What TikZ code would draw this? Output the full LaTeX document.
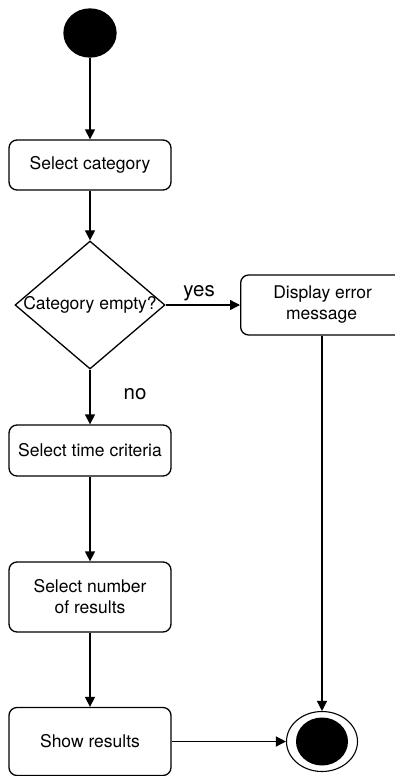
\documentclass[tikz,border=0pt]{standalone}
\usepackage{fontspec}
\setmainfont{TeX Gyre Heros}
\usetikzlibrary{shapes.geometric,arrows.meta}
\begin{document}
\begin{tikzpicture}[x=1pt,y=-1pt,
  line width=1.3pt,
  action/.style={draw, rounded corners=8pt, minimum width=162pt, inner sep=0pt,
    align=center, font=\fontsize{17.5}{21}\selectfont},
  decision/.style={draw, diamond, minimum width=150pt, minimum height=128pt, inner sep=0pt,
    font=\fontsize{17.5}{21}\selectfont},
  guard/.style={font=\fontsize{20.5}{24}\selectfont, inner sep=0pt},
  flow/.style={-{Triangle[length=10pt,width=10pt]}}
]
\clip (0,0) rectangle (395,776);
\fill[white] (0,0) rectangle (395,776);

% initial state
\node[draw, fill=black, ellipse, minimum width=52pt, minimum height=48pt, inner sep=0pt] (start) at (90,33) {};

% actions
\node[action, minimum height=50pt] (cat) at (90,165) {Select category};
\node[decision] (empty) at (90,305) {\makebox[0pt]{Category empty?}};
\node[action, minimum width=162pt, minimum height=60pt, anchor=west] (err) at (240,305) {\hspace*{2pt}Display error\\message};
\node[action, minimum height=51pt] (time) at (90,450.5) {Select time criteria};
\node[action, minimum height=70pt] (num) at (90,597) {Select number\\of results};
\node[action, minimum height=68pt] (show) at (90,741.5) {Show results};

% final state
\node[draw, ellipse, minimum width=71pt, minimum height=60pt, inner sep=0pt, line width=1.1pt] (final) at (322,741.5) {};
\node[fill=black, ellipse, minimum width=52pt, minimum height=48pt, inner sep=0pt] (finalcore) at (final.center) {};

% transitions
\draw[flow] (start) -- (cat);
\draw[flow] (cat) -- (empty);
\draw[flow] (empty.east) -- node[guard, above=3pt, pos=0.45] {yes} (err.west);
\draw[flow] (empty.south) -- node[guard, right=33pt, pos=0.45] {no} (time.north);
\draw[flow] (time) -- (num);
\draw[flow] (num) -- (show);
\draw[flow] (show.east) -- (final.west);
\coordinate (errfoot) at (err.south -| final.north);
\draw[flow] (errfoot) -- (final.north);
\end{tikzpicture}
\end{document}
